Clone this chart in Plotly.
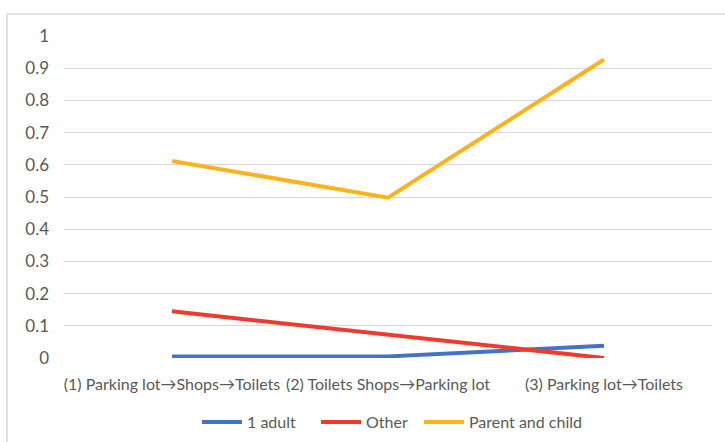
import plotly.graph_objects as go

categories = ["(1) Parking lot→Shops→Toilets", "(2) Toilets Shops→Parking lot", "(3) Parking lot→Toilets"]
series_names = ["1 adult", "Other", "Parent and child"]
adult = [0.005, 0.005, 0.038]
other = [0.145, 0.072, 0.0]
parent = [0.612, 0.498, 0.927]
colors = ["#4472C4", "#F03A2E", "#FFB21A"]
legend_ids = ["legend", "legend2", "legend3"]
legend_left_px = [197, 316, 419]

fig = go.Figure()
for name, vals, col, lid in zip(series_names, [adult, other, parent], colors, legend_ids):
    fig.add_trace(go.Scatter(x=categories, y=vals, name=name, mode="lines",
                             line=dict(color=col, width=4), legend=lid))

legend_common = dict(orientation="h", xanchor="left", xref="container",
                     y=(442 - 422) / 442, yanchor="middle", yref="container",
                     font=dict(size=16, color="#595959"), itemwidth=40,
                     bgcolor="rgba(0,0,0,0)")
legends = {lid: dict(x=px / 725, **legend_common) for lid, px in zip(legend_ids, legend_left_px)}

fig.update_layout(
    width=725, height=442,
    margin=dict(l=64, r=13, t=36, b=84, autoexpand=False),
    paper_bgcolor="white", plot_bgcolor="white",
    font=dict(family="Lato", size=16, color="#595959"),
    showlegend=True,
    xaxis=dict(type="category", showgrid=False, zeroline=False, showline=False,
               ticks="", tickfont=dict(size=16, color="#595959"), range=[-0.5, 2.5],
               ticklabelstandoff=15),
    yaxis=dict(range=[0, 1], dtick=0.1, showgrid=True, gridcolor="#D9D9D9", gridwidth=1,
               zeroline=False, showline=False, tickfont=dict(size=17, color="#595959"),
               ticklabelstandoff=14, tickformat="~g"),
    shapes=[dict(type="rect", xref="paper", yref="paper", x0=-0.088, x1=1.2, y0=-0.5, y1=1.068,
                 line=dict(color="#D9D9D9", width=1.5), fillcolor="rgba(0,0,0,0)", layer="below")],
    **legends,
)
fig.write_html("out.html")
